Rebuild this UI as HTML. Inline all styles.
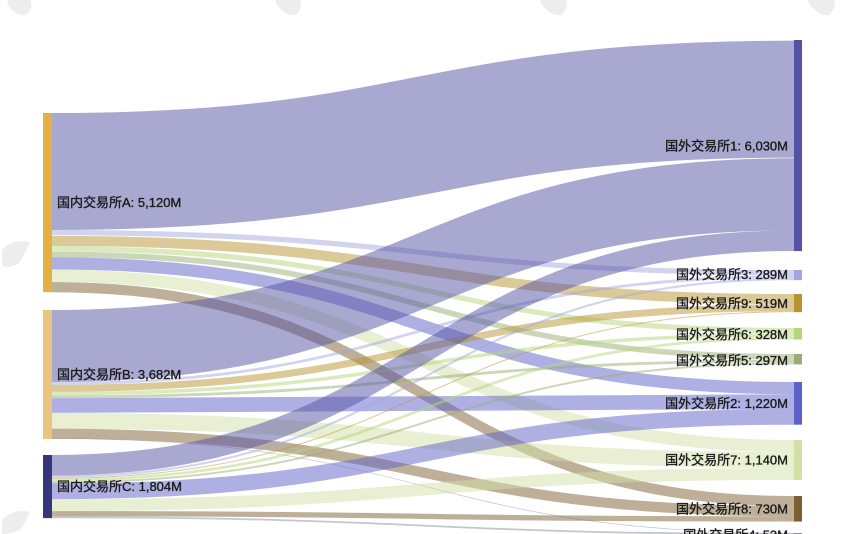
<!DOCTYPE html>
<html>
<head>
<meta charset="utf-8">
<style>
  html,body{margin:0;padding:0;background:#fff;}
  body{width:866px;height:534px;overflow:hidden;}
  svg{display:block;}
  text{font-family:"Liberation Sans","Noto Sans CJK SC",sans-serif;font-size:13px;fill:#1a1a1a;stroke:#1a1a1a;stroke-width:0.35px;}
</style>
</head>
<body>
<svg width="866" height="534" viewBox="0 0 866 534" xmlns="http://www.w3.org/2000/svg">
  <rect width="866" height="534" fill="#fff"/>
  <!-- faint watermarks -->
  <g fill="#ededed">
    <path d="M8,0 L30,0 Q34,8 26,15 Q18,16 12,10 Q6,5 8,0Z"/>
    <path d="M276,0 L300,0 Q303,8 296,15 Q288,16 282,10 Q275,5 276,0Z"/>
    <path d="M541,0 L566,0 Q569,8 561,15 Q553,16 547,10 Q540,5 541,0Z"/>
    <path d="M808,0 L834,0 Q837,8 829,15 Q821,16 815,10 Q808,5 808,0Z"/>
    <path d="M2,250 Q14,238 30,242 Q26,252 20,262 Q10,270 2,265Z"/>
    <path d="M2,520 Q14,508 30,512 Q26,522 20,530 Q10,534 2,534Z"/>
  </g>
  <g fill="none" stroke-opacity="0.5">
    <!-- A -->
    <path d="M52,171.5C423,171.5 423,99.15 794,99.15" stroke="#5352a3" stroke-width="117"/>
    <path d="M52,232.6C423,232.6 423,272.63 794,272.63" stroke="#a4a7df" stroke-width="5.25"/>
    <path d="M52,240.9C423,240.9 423,299.08 794,299.08" stroke="#b89332" stroke-width="10.15"/>
    <path d="M52,248.8C423,248.8 423,330.63 794,330.63" stroke="#b5d57a" stroke-width="5.25"/>
    <path d="M52,254.4C423,254.4 423,356.8 794,356.8" stroke="#9aad74" stroke-width="5.6"/>
    <path d="M52,263.4C423,263.4 423,388.13 794,388.13" stroke="#5d62c8" stroke-width="12.25"/>
    <path d="M52,275.8C423,275.8 423,446.13 794,446.13" stroke="#d3e0a5" stroke-width="12.25"/>
    <path d="M52,287.13C423,287.13 423,501.08 794,501.08" stroke="#7b5f31" stroke-width="10.15"/>
    <!-- B -->
    <path d="M52,346.05C423,346.05 423,194.35 794,194.35" stroke="#5352a3" stroke-width="72.1"/>
    <path d="M52,383.5C423,383.5 423,276.65 794,276.65" stroke="#a4a7df" stroke-width="2.8"/>
    <path d="M52,388.4C423,388.4 423,307.65 794,307.65" stroke="#b89332" stroke-width="7"/>
    <path d="M52,393.65C423,393.65 423,335 794,335" stroke="#b5d57a" stroke-width="3.5"/>
    <path d="M52,396.8C423,396.8 423,361 794,361" stroke="#9aad74" stroke-width="2.8"/>
    <path d="M52,405.55C423,405.55 423,401.6 794,401.6" stroke="#5d62c8" stroke-width="14.7"/>
    <path d="M52,420.78C423,420.78 423,460.13 794,460.13" stroke="#d3e0a5" stroke-width="15.75"/>
    <path d="M52,433.73C423,433.73 423,511.23 794,511.23" stroke="#7b5f31" stroke-width="10.15"/>
    <path d="M52,438.5C423,438.5 423,533.2 794,533.2" stroke="#8c8c9c" stroke-width="0.7"/>
    <!-- C -->
    <path d="M52,465.33C423,465.33 423,240.73 794,240.73" stroke="#5352a3" stroke-width="20.65"/>
    <path d="M52,476.68C423,476.68 423,279.08 794,279.08" stroke="#a4a7df" stroke-width="2.07"/>
    <path d="M52,478.22C423,478.22 423,311.66 794,311.66" stroke="#b89332" stroke-width="1.02"/>
    <path d="M52,480.1C423,480.1 423,338.12 794,338.12" stroke="#b5d57a" stroke-width="2.73"/>
    <path d="M52,482.46C423,482.46 423,363.4 794,363.4" stroke="#9aad74" stroke-width="2"/>
    <path d="M52,491.33C423,491.33 423,416.83 794,416.83" stroke="#5d62c8" stroke-width="15.75"/>
    <path d="M52,505.16C423,505.16 423,473.95 794,473.95" stroke="#d3e0a5" stroke-width="11.9"/>
    <path d="M52,513.73C423,513.73 423,518.93 794,518.93" stroke="#7b5f31" stroke-width="5.25"/>
    <path d="M52,517.25C423,517.25 423,533.96 794,533.96" stroke="#8c8c9c" stroke-width="1.79"/>
  </g>
  <!-- nodes -->
  <g>
    <rect x="43" y="113" width="9" height="179.2" fill="#e4b043"/>
    <rect x="43" y="310" width="9" height="128.9" fill="#eac57f"/>
    <rect x="43" y="455" width="9" height="63.1" fill="#35377a"/>
    <rect x="794" y="40" width="8" height="211.05" fill="#5352a3"/>
    <rect x="794" y="270" width="8" height="10.12" fill="#a4a7df"/>
    <rect x="794" y="294" width="8" height="18.17" fill="#b89332"/>
    <rect x="794" y="328" width="8" height="11.48" fill="#b5d57a"/>
    <rect x="794" y="354" width="8" height="10.4" fill="#9aad74"/>
    <rect x="794" y="382" width="8" height="42.7" fill="#5d62c8"/>
    <rect x="794" y="440" width="8" height="39.9" fill="#d3e0a5"/>
    <rect x="794" y="496" width="8" height="25.55" fill="#7b5f31"/>
    <rect x="794" y="533" width="8" height="1.86" fill="#8c8c9c"/>
  </g>
  <!-- labels -->
  <g>
    <text x="57" y="202.6" dy="0.35em">国内交易所A: 5,120M</text>
    <text x="57" y="374.4" dy="0.35em">国内交易所B: 3,682M</text>
    <text x="57" y="486.6" dy="0.35em">国内交易所C: 1,804M</text>
    <text x="788" y="146" dy="0.35em" text-anchor="end">国外交易所1: 6,030M</text>
    <text x="788" y="274.5" dy="0.35em" text-anchor="end">国外交易所3: 289M</text>
    <text x="788" y="303.3" dy="0.35em" text-anchor="end">国外交易所9: 519M</text>
    <text x="788" y="334.2" dy="0.35em" text-anchor="end">国外交易所6: 328M</text>
    <text x="788" y="360.2" dy="0.35em" text-anchor="end">国外交易所5: 297M</text>
    <text x="788" y="403.5" dy="0.35em" text-anchor="end">国外交易所2: 1,220M</text>
    <text x="788" y="460" dy="0.35em" text-anchor="end">国外交易所7: 1,140M</text>
    <text x="788" y="509" dy="0.35em" text-anchor="end">国外交易所8: 730M</text>
    <text x="788" y="535" dy="0.35em" text-anchor="end">国外交易所4: 53M</text>
  </g>
</svg>
</body>
</html>
